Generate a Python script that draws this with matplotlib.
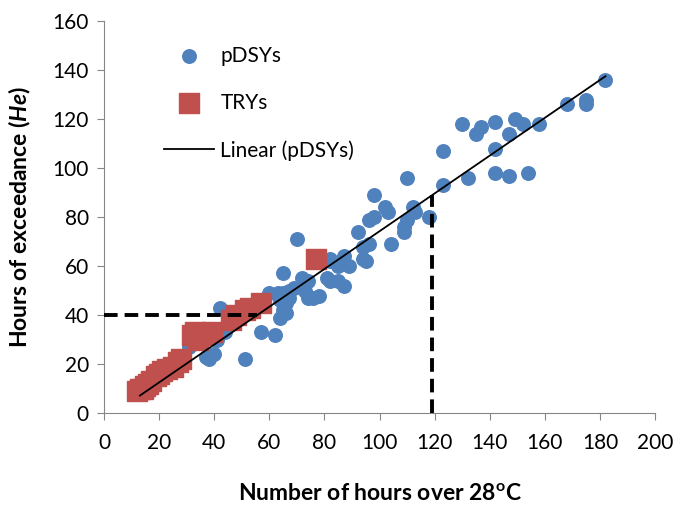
import matplotlib
matplotlib.use('Agg')
import matplotlib.pyplot as plt
import numpy as np

plt.rcParams.update({'font.family': 'Lato', 'font.size': 15,
                     'mathtext.fontset': 'custom',
                     'mathtext.rm': 'Lato:bold',
                     'mathtext.it': 'Lato:italic:bold'})

# pDSYs (hours over 28C, hours of exceedance)
pdsy_x = [13, 17, 21, 26, 31, 37, 38, 40, 41, 44, 42, 45, 48, 51, 57, 62,
          60, 63, 65, 64, 66, 67, 65, 66, 64, 65, 67, 69,
          70, 72, 74, 73, 74, 76, 78, 81, 82, 85, 87, 85, 82, 82, 87, 89,
          94, 95, 96, 94, 104, 92, 96, 98, 102, 103, 112, 113, 118, 109,
          109, 110, 98, 110,
          123, 123, 130, 132, 135, 137, 142, 142, 142, 147, 147, 149, 152,
          154, 158, 168, 175, 175, 182]
pdsy_y = [10, 13, 16, 20, 27, 23, 22, 24, 30, 33, 43, 37, 40, 22, 33, 32,
          49, 49, 49, 46, 45, 47, 42, 41, 39, 57, 50, 51,
          71, 55, 54, 50, 47, 47, 48, 55, 54, 54, 52, 60, 62, 63, 64, 60,
          63, 62, 69, 68, 69, 74, 79, 80, 84, 82, 84, 82, 80, 74,
          76, 79, 89, 96,
          107, 93, 118, 96, 114, 117, 119, 108, 98, 114, 97, 120, 118,
          98, 118, 126, 128, 126, 136]

# TRYs
try_x = [12, 13, 14, 15, 16, 17, 19, 20, 21, 23, 25, 27, 28,
         32, 33, 34, 36, 39, 46, 48, 51, 53, 57, 77]
try_y = [9, 10, 10, 11, 12, 13, 15, 16, 17, 18, 19, 21, 22,
         32, 33, 30, 32, 33, 38, 40, 42, 43, 45, 63]

he_limit = 40
hours_limit = 119

fig = plt.figure(figsize=(6.76, 5.05), dpi=100)
ax = fig.add_axes([0.154, 0.182, 0.815, 0.776])

blue = '#4F81BD'
red = '#C0504D'

ax.scatter(pdsy_x, pdsy_y, s=95, color=blue, label='pDSYs', zorder=2)
ax.scatter(try_x, try_y, s=190, marker='s', color=red, label='TRYs', zorder=3)

slope, icpt = np.polyfit(pdsy_x, pdsy_y, 1)
xl = np.array([min(pdsy_x), max(pdsy_x)])
ax.plot(xl, slope * xl + icpt, color='black', lw=1.3, label='Linear (pDSYs)', zorder=4)

# dashed guides to the trend line
x_at_limit = (he_limit - icpt) / slope
ax.plot([0, x_at_limit], [he_limit, he_limit], color='black', lw=2.8,
        dashes=(3.5, 1.8), zorder=5)
ax.plot([hours_limit, hours_limit], [0, slope * hours_limit + icpt],
        color='black', lw=2.8, dashes=(3.5, 1.8), zorder=5)

ax.set_xlim(0, 200)
ax.set_ylim(0, 160)
ax.set_xticks(np.arange(0, 201, 20))
ax.set_yticks(np.arange(0, 161, 20))

for s in ['top', 'right']:
    ax.spines[s].set_visible(False)
for s in ['left', 'bottom']:
    ax.spines[s].set_color('#868686')
ax.tick_params(direction='out', length=5, color='#868686', labelsize=15)
ax.tick_params(axis='x', pad=9)
ax.tick_params(axis='y', pad=6)

ax.set_xlabel('Number of hours over 28$^{\\mathrm{o}}$C', fontweight='bold',
              fontsize=16.5, labelpad=22)
ax.set_ylabel('Hours of exceedance ($\\mathit{He}$)', fontweight='bold',
              fontsize=16.5, labelpad=14)

ax.legend(loc='upper left', bbox_to_anchor=(0.075, 0.985), frameon=False,
          labelspacing=1.3, handlelength=2.4, handletextpad=0.3, fontsize=15)

plt.savefig('out.png', dpi=100)
